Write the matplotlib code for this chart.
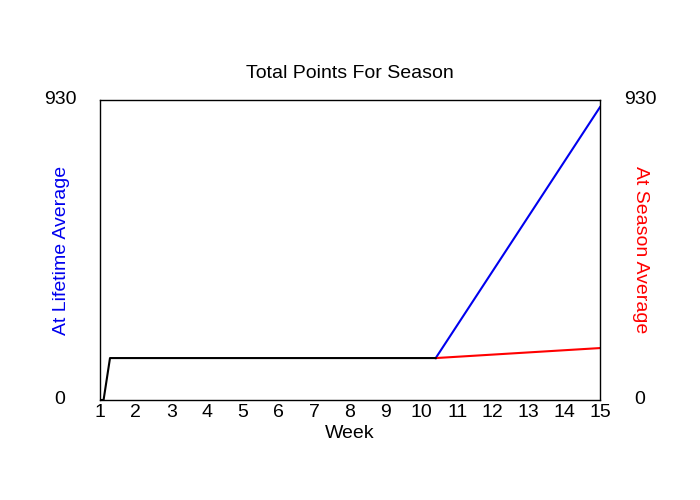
import matplotlib
matplotlib.use("Agg")
import matplotlib.pyplot as plt

plt.rcParams['font.family'] = ['Liberation Sans', 'DejaVu Sans']

weeks_actual = [1.0, 1.1, 1.28, 10.4]
points_actual = [0, 0, 130, 130]
weeks_proj = [10.4, 15.0]
lifetime_proj = [130, 908]
season_proj = [130, 161]
xticks = list(range(1, 16))
ymax = 930

fig = plt.figure(figsize=(7, 5), dpi=100)
ax = fig.add_axes([100/700, 100/500, 500/700, 300/500])
ax.plot(weeks_proj, lifetime_proj, color='#0000ee', lw=1.5)
ax.plot(weeks_proj, season_proj, color='#ff0000', lw=1.5)
ax.plot(weeks_actual, points_actual, color='black', lw=1.5)
ax.set_xlim(1, 15)
ax.set_ylim(0, ymax)
ax.set_xticks(xticks)
ax.set_xticklabels([str(t) for t in xticks], fontsize=14)
ax.tick_params(axis='x', length=0, pad=3)
ax.set_yticks([0, ymax])
ax.set_yticklabels(['0', str(ymax)], fontsize=14)
ax.tick_params(axis='y', length=0, pad=28.8, labelright=True, right=False,
               labelsize=14)
for t in ax.yaxis.get_major_ticks():
    t.label1.set_horizontalalignment('center')
    t.label2.set_horizontalalignment('center')
    t.label1.set_verticalalignment('center')
    t.label2.set_verticalalignment('center')
ax.set_xlabel('Week', fontsize=14, labelpad=2.5)
ax.set_title('Total Points For Season', fontsize=14, pad=16)
fig.text(61/700, 0.5, 'At Lifetime Average', color='#0000ee', rotation=90,
         ha='center', va='center', fontsize=14)
fig.text(640/700, 0.5, 'At Season Average', color='#ff0000', rotation=-90,
         ha='center', va='center', fontsize=14)
for s in ax.spines.values():
    s.set_linewidth(1.0)
fig.savefig('out.png', dpi=100)
